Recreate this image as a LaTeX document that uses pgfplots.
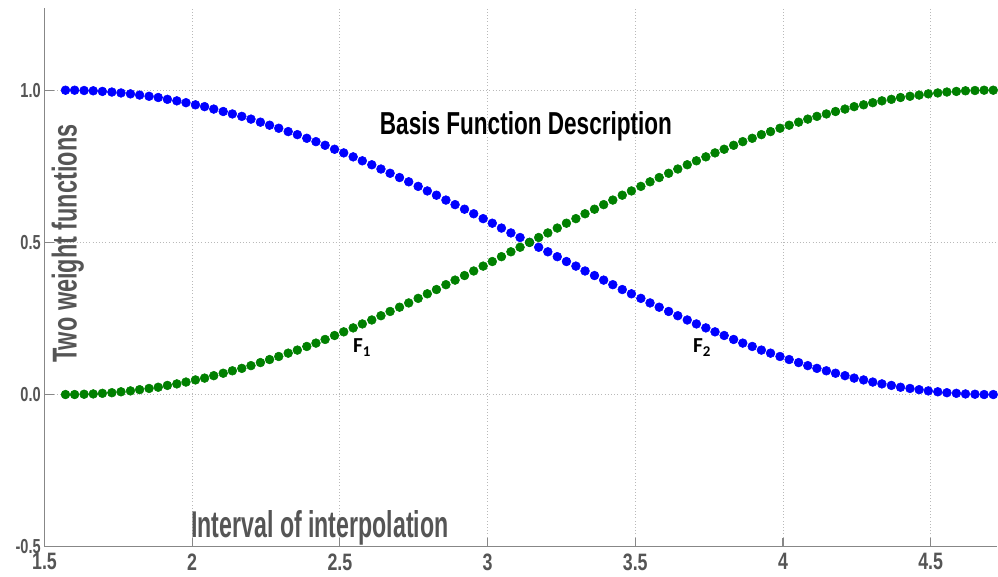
\documentclass[border=0pt]{standalone}
\usepackage{fontspec}
\usepackage{graphicx}
\usepackage{pgfplots}
\pgfplotsset{compat=1.18}
\usepackage{pgfplotstable}
\newfontfamily\narrow{Liberation Sans}
\newfontfamily\carl{Carlito}
\newcommand\nx[1]{\scalebox{0.75}[1]{#1}}
\newcommand\ny[1]{\scalebox{0.72}[1]{#1}}
\definecolor{labgray}{RGB}{85,85,85}
\definecolor{axgray}{RGB}{135,135,135}
\definecolor{gridgray}{RGB}{185,185,185}
\definecolor{mblue}{RGB}{0,0,255}
\definecolor{mgreen}{RGB}{0,128,0}
\pgfplotstableread{
x b g
1.571 1.000 0.000
1.602 1.000 0.000
1.634 0.999 0.001
1.665 0.998 0.002
1.696 0.996 0.004
1.728 0.994 0.006
1.759 0.991 0.009
1.791 0.988 0.012
1.822 0.984 0.016
1.854 0.980 0.020
1.885 0.976 0.024
1.916 0.970 0.030
1.948 0.965 0.035
1.979 0.959 0.041
2.011 0.952 0.048
2.042 0.946 0.054
2.073 0.938 0.062
2.105 0.930 0.070
2.136 0.922 0.078
2.168 0.914 0.086
2.199 0.905 0.095
2.231 0.895 0.105
2.262 0.885 0.115
2.293 0.875 0.125
2.325 0.864 0.136
2.356 0.854 0.146
2.388 0.842 0.158
2.419 0.831 0.169
2.450 0.819 0.181
2.482 0.806 0.194
2.513 0.794 0.206
2.545 0.781 0.219
2.576 0.768 0.232
2.608 0.755 0.245
2.639 0.741 0.259
2.670 0.727 0.273
2.702 0.713 0.287
2.733 0.699 0.301
2.765 0.684 0.316
2.796 0.669 0.331
2.827 0.655 0.345
2.859 0.639 0.361
2.890 0.624 0.376
2.922 0.609 0.391
2.953 0.594 0.406
2.985 0.578 0.422
3.016 0.563 0.437
3.047 0.547 0.453
3.079 0.531 0.469
3.110 0.516 0.484
3.142 0.500 0.500
3.173 0.484 0.516
3.204 0.469 0.531
3.236 0.453 0.547
3.267 0.437 0.563
3.299 0.422 0.578
3.330 0.406 0.594
3.362 0.391 0.609
3.393 0.376 0.624
3.424 0.361 0.639
3.456 0.345 0.655
3.487 0.331 0.669
3.519 0.316 0.684
3.550 0.301 0.699
3.581 0.287 0.713
3.613 0.273 0.727
3.644 0.259 0.741
3.676 0.245 0.755
3.707 0.232 0.768
3.739 0.219 0.781
3.770 0.206 0.794
3.801 0.194 0.806
3.833 0.181 0.819
3.864 0.169 0.831
3.896 0.158 0.842
3.927 0.146 0.854
3.958 0.136 0.864
3.990 0.125 0.875
4.021 0.115 0.885
4.053 0.105 0.895
4.084 0.095 0.905
4.115 0.086 0.914
4.147 0.078 0.922
4.178 0.070 0.930
4.210 0.062 0.938
4.241 0.054 0.946
4.273 0.048 0.952
4.304 0.041 0.959
4.335 0.035 0.965
4.367 0.030 0.970
4.398 0.024 0.976
4.430 0.020 0.980
4.461 0.016 0.984
4.492 0.012 0.988
4.524 0.009 0.991
4.555 0.006 0.994
4.587 0.004 0.996
4.618 0.002 0.998
4.650 0.001 0.999
4.681 0.000 1.000
4.712 0.000 1.000
}\basis
\begin{document}
\begin{tikzpicture}
\begin{axis}[
  at={(0,0)}, anchor=south west,
  scale only axis, width=714pt, height=404pt,
  xmin=1.5, xmax=4.723, ymin=-0.5, ymax=1.27,
  axis x line*=bottom, axis y line*=left,
  axis line style={-, draw=axgray, line width=0.9pt},
  xtick={1.5,2,2.5,3,3.5,4,4.5},
  xticklabels={\nx{1.5},\nx{2},\nx{2.5},\nx{3},\nx{3.5},\nx{4},\nx{4.5}},
  ytick={-0.5,0,0.5,1},
  yticklabels={\ny{-0.5},\ny{0.0},\ny{0.5},\ny{1.0}},
  tick align=inside, major tick length=6.75pt,
  tick style={draw=axgray, line width=0.9pt},
  grid=major,
  major grid style={dotted, draw=gridgray, line width=0.6pt},
  xticklabel style={font=\fontsize{17.8}{18}\selectfont\narrow\bfseries, text=labgray, inner sep=0pt, yshift=-5pt, anchor=north},
  yticklabel style={font=\fontsize{15.2}{16}\selectfont\narrow\bfseries, text=labgray, inner sep=0pt, xshift=-2.6pt, anchor=east},
  clip=false,
]
\addplot[only marks, mark=*, mark size=3.3pt, color=mblue, mark options={fill=mblue, draw=mblue}] table[x=x, y=b]{\basis};
\addplot[only marks, mark=*, mark size=3.3pt, color=mgreen, mark options={fill=mgreen, draw=mgreen}] table[x=x, y=g]{\basis};
\node[anchor=base, inner sep=0pt] at (axis cs:3.130,0.853) {\resizebox{219pt}{17.25pt}{\narrow\bfseries Basis Function Description}};
\node[anchor=base west, inner sep=0pt, text=labgray] at (axis cs:1.996,-0.471) {\resizebox{193pt}{20.25pt}{\narrow\bfseries Interval of interpolation}};
\node[anchor=base west, rotate=90, inner sep=0pt, text=labgray] at (axis cs:1.609,0.104) {\resizebox{178.5pt}{18.75pt}{\narrow\bfseries Two weight functions}};
\node[anchor=base west, inner sep=0pt] at (axis cs:2.544,0.137) {\fontsize{16}{17}\selectfont\carl\bfseries F\textsubscript{1}};
\node[anchor=base west, inner sep=0pt] at (axis cs:3.695,0.137) {\fontsize{16}{17}\selectfont\carl\bfseries F\textsubscript{2}};
\end{axis}
\pgfresetboundingbox
\path[use as bounding box] (-33.375pt,-21.975pt) rectangle (715.125pt,410.025pt);
\end{tikzpicture}
\end{document}
